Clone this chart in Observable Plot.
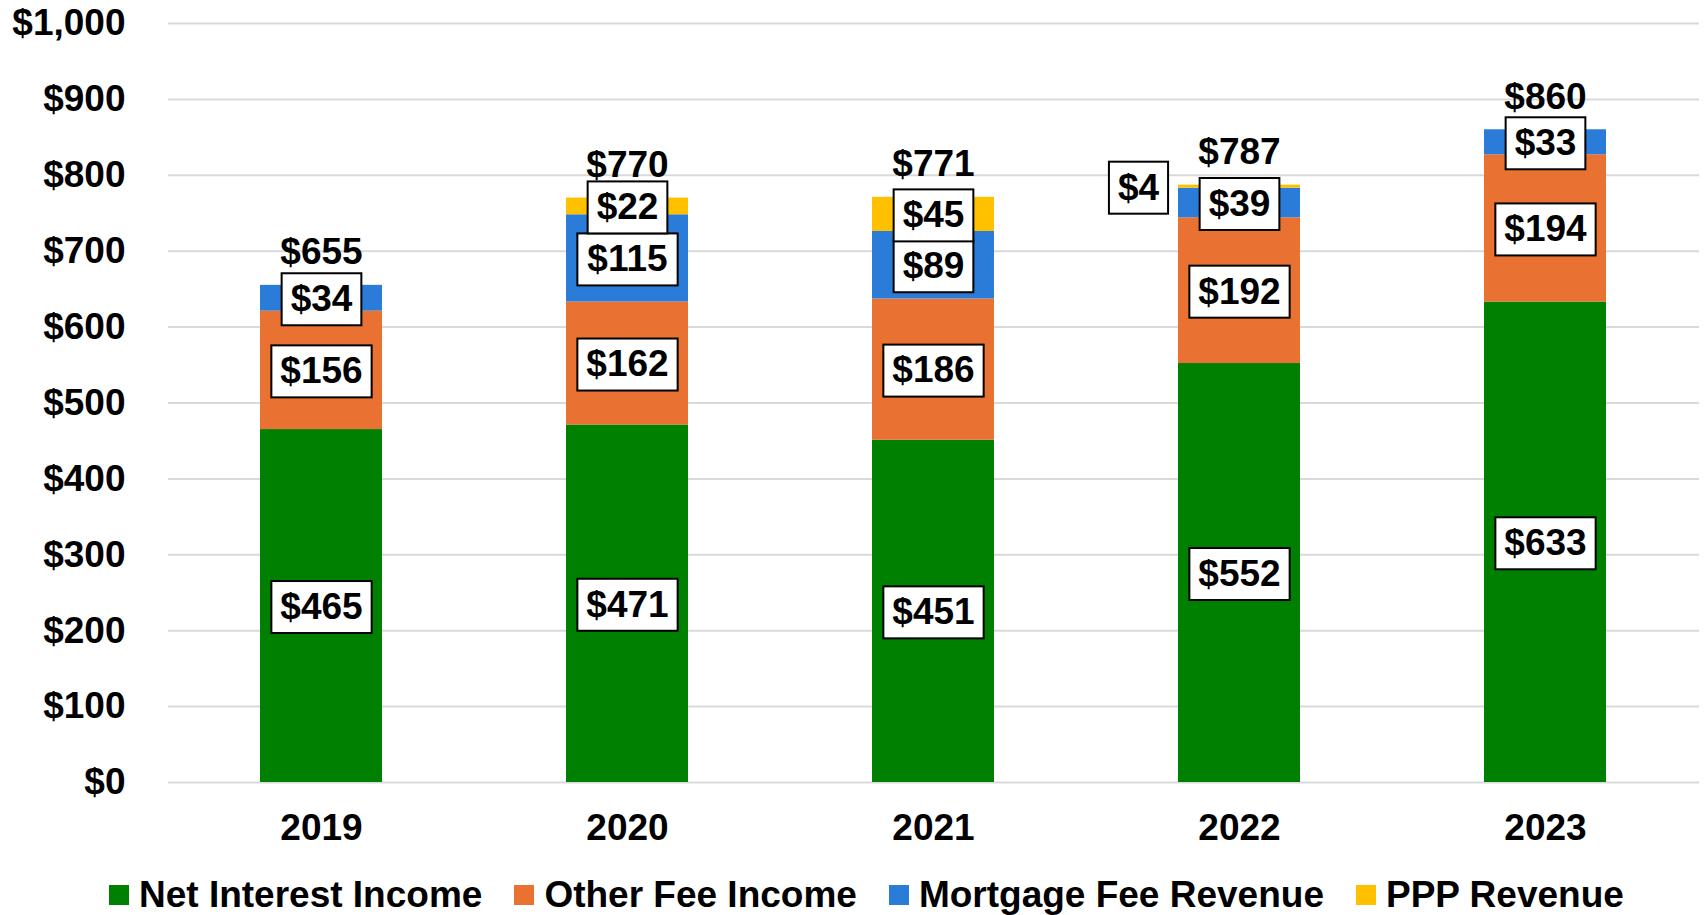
<!DOCTYPE html>
<html>
<head>
<meta charset="utf-8">
<script src="https://cdn.jsdelivr.net/npm/d3@7"></script>
<script src="https://cdn.jsdelivr.net/npm/@observablehq/plot@0.6"></script>
<style>
  html, body { margin: 0; padding: 0; background: #fff; }
  body { font-family: "Liberation Sans", Arial, sans-serif; }
  #wrap { position: relative; width: 1704px; height: 915px; overflow: hidden; }
  #legend { position: absolute; left: 109px; top: 875px; height: 40px; display: flex; align-items: center;
            font-size: 37px; font-weight: bold; color: #000; white-space: nowrap; }
  .item { display: flex; align-items: center; margin-right: 32px; }
  .sw { width: 20px; height: 20px; margin-right: 10px; flex: none; }
</style>
</head>
<body>
<div id="wrap">
  <div id="chart"></div>
  <div id="legend"></div>
</div>
<script>
// ---- Data ----
const years = ["2019", "2020", "2021", "2022", "2023"];
const series = ["Net Interest Income", "Other Fee Income", "Mortgage Fee Revenue", "PPP Revenue"];
const netInterestIncome = [465, 471, 451, 552, 633];
const otherFeeIncome = [156, 162, 186, 192, 194];
const mortgageFeeRevenue = [34, 115, 89, 39, 33];
const pppRevenue = [0, 22, 45, 4, 0];
const totals = [655, 770, 771, 787, 860];
const yTicks = [0, 100, 200, 300, 400, 500, 600, 700, 800, 900, 1000];
const colors = ["#008000", "#E97132", "#2B7CD9", "#FFC000"];

const seriesValues = [netInterestIncome, otherFeeIncome, mortgageFeeRevenue, pppRevenue];

// long-format rows (stack order bottom -> top)
const rows = [];
years.forEach((year, i) => {
  let base = 0;
  series.forEach((s, k) => {
    const v = seriesValues[k][i];
    rows.push({ year, series: s, value: v, mid: base + v / 2 });
    base += v;
  });
});
const totalRows = years.map((year, i) => ({ year, total: totals[i] }));

const money = d => "$" + d3.format(",")(d);
const FONT = 37;

// Renders a white, black-bordered box behind each label
function boxedRender(data) {
  return function (index, scales, values, dimensions, context, next) {
    const g = next(index, scales, values, dimensions, context);
    const first = g.firstChild;
    for (const i of index) {
      const label = money(data[i].value);
      const w = label.length * 0.556 * FONT + 18;
      const h = 52;
      const r = document.createElementNS("http://www.w3.org/2000/svg", "rect");
      r.setAttribute("x", values.x[i] - w / 2);
      r.setAttribute("y", values.y[i] - h / 2);
      r.setAttribute("width", w);
      r.setAttribute("height", h);
      r.setAttribute("fill", "#fff");
      r.setAttribute("stroke", "#000");
      r.setAttribute("stroke-width", 2);
      g.insertBefore(r, first);
    }
    return g;
  };
}

const inside = rows.filter(d => d.value >= 10);
const outside = rows.filter(d => d.value > 0 && d.value < 10);

const textStyle = { fontSize: FONT, fontWeight: "bold", fill: "#000" };

const chart = Plot.plot({
  width: 1704,
  height: 860,
  marginLeft: 168,
  marginRight: 5,
  marginTop: 23,
  marginBottom: 78,
  style: { fontFamily: "'Liberation Sans', Arial, sans-serif", background: "#fff", overflow: "visible" },
  x: { domain: years, paddingInner: 0.6, paddingOuter: 0.3, axis: null },
  y: { domain: [0, 1000], axis: null },
  color: { domain: series, range: colors },
  marks: [
    Plot.ruleY(yTicks, { y: d => d, stroke: "#d9d9d9", strokeWidth: 2 }),
    Plot.barY(rows, { x: "year", y: "value", fill: "series" }),
    // y tick labels
    Plot.text(yTicks, { y: d => d, text: money, frameAnchor: "left", dx: -43, textAnchor: "end", ...textStyle }),
    // x tick labels
    Plot.text(years, { x: d => d, text: d => d, frameAnchor: "bottom", dy: 57, ...textStyle }),
    // totals
    Plot.text(totalRows, { x: "year", y: "total", text: d => money(d.total), dy: -33, ...textStyle }),
    // boxed segment labels
    Plot.text(inside, { x: "year", y: "mid", text: d => money(d.value), dy: 1, ...textStyle, render: boxedRender(inside) }),
    Plot.text(outside, { x: "year", y: "mid", text: d => money(d.value), dx: -101, dy: 1, ...textStyle, render: boxedRender(outside) })
  ]
});
document.getElementById("chart").appendChild(chart);

// legend
const legend = document.getElementById("legend");
series.forEach((s, k) => {
  const item = document.createElement("div");
  item.className = "item";
  const sw = document.createElement("span");
  sw.className = "sw";
  sw.style.background = colors[k];
  const lab = document.createElement("span");
  lab.textContent = s;
  item.appendChild(sw);
  item.appendChild(lab);
  legend.appendChild(item);
});
</script>
</body>
</html>
